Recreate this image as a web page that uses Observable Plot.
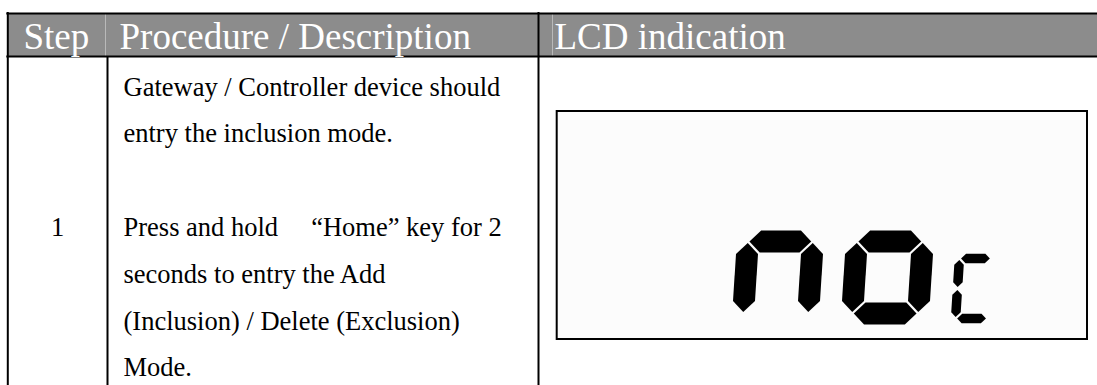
<!DOCTYPE html>
<html>
<head>
<meta charset="utf-8">
<script src="https://cdn.jsdelivr.net/npm/d3@7"></script>
<script src="https://cdn.jsdelivr.net/npm/@observablehq/plot@0.6"></script>
<style>
  html, body { margin: 0; padding: 0; background: #ffffff; }
  #chart svg { display: block; }
</style>
</head>
<body>
<div id="chart"></div>
<script>
// ---------- content ----------
const headers = ["Step", "Procedure / Description", "LCD indication"];
const stepNumbers = ["1"];
const stepLineIndex = [3];
const descriptionLines = [
  "Gateway / Controller device should",
  "entry the inclusion mode.",
  "",
  "Press and hold\u3000 \u201CHome\u201D key for 2",
  "seconds to entry the Add",
  "(Inclusion) / Delete (Exclusion)",
  "Mode."
];
const lcdChars = ["n", "O", "c"];
const lcdSegments = [
  ["top", "left", "right"],
  ["top", "left", "right", "bottom"],
  ["top", "upperLeft", "lowerLeft", "bottom"]
];

// ---------- layout ----------
const W = 1097, H = 385;
const SERIF = "'Liberation Serif', 'Times New Roman', 'Noto Sans CJK SC', serif";
const colEdges = [7.3, 107, 538, 1098];
const headerTop = 13, headerBottom = 56;
const headerTextX = [23, 119, 554];
const headerSeparators = [105, 552];
const headerFont = 37, headerBaseline = 48;
const bodyFont = 26.5, baseline0 = 95, lineStep = 46.8, descX = 123;
const box = {x1: 556.7, x2: 1087, y1: 111, y2: 339};
// digit geometry: left/right centre lines, top/bottom centre lines, thickness
const digitGeom = [
  {xl: 745, xr: 810, yt: 241, yb: 313, t: 22},
  {xl: 854, xr: 920, yt: 241, yb: 313, t: 22},
  {xl: 957, xr: 989, yt: 258, yb: 318, t: 9.5}
];
const slant = 0.065, gap = 1.6;

function hSeg(x1, x2, yc, t) {
  return [[x1 + gap, yc], [x1 + gap + t / 2, yc - t / 2], [x2 - gap - t / 2, yc - t / 2],
          [x2 - gap, yc], [x2 - gap - t / 2, yc + t / 2], [x1 + gap + t / 2, yc + t / 2]];
}
function vSeg(xc, y1, y2, t) {
  return [[xc, y1 + gap], [xc + t / 2, y1 + gap + t / 2], [xc + t / 2, y2 - gap - t / 2],
          [xc, y2 - gap], [xc - t / 2, y2 - gap - t / 2], [xc - t / 2, y1 + gap + t / 2]];
}
const segRows = [];
lcdChars.forEach((ch, i) => {
  const g = digitGeom[i];
  const ym = (g.yt + g.yb) / 2;
  lcdSegments[i].forEach(seg => {
    let pts;
    if (seg === "top") pts = hSeg(g.xl, g.xr, g.yt, g.t);
    else if (seg === "bottom") pts = hSeg(g.xl, g.xr, g.yb, g.t);
    else if (seg === "left") pts = vSeg(g.xl, g.yt, g.yb, g.t);
    else if (seg === "right") pts = vSeg(g.xr, g.yt, g.yb, g.t);
    else if (seg === "upperLeft") pts = vSeg(g.xl, g.yt, ym, g.t);
    else if (seg === "lowerLeft") pts = vSeg(g.xl, ym, g.yb, g.t);
    pts.forEach(([x, y]) => segRows.push({id: ch + i + seg, x: x + slant * (ym - y), y}));
  });
});

const headerRows = headers.map((h, i) => ({text: h, x: headerTextX[i], y: headerBaseline - 0.32 * headerFont}));
const descRows = descriptionLines.map((t, i) => ({text: t, x: descX, y: baseline0 + i * lineStep - 0.32 * bodyFont}));
const stepRows = stepNumbers.map((s, i) => ({text: s, x: (colEdges[0] + colEdges[1]) / 2, y: baseline0 + stepLineIndex[i] * lineStep - 0.32 * bodyFont}));

const vLines = [
  {x: colEdges[0], y1: headerTop - 1, y2: H},
  {x: colEdges[1], y1: headerBottom, y2: H},
  {x: colEdges[2], y1: headerTop - 1, y2: H},
  {x: colEdges[3], y1: headerTop - 1, y2: H}
];
const hLines = [
  {y: headerTop, x1: colEdges[0] - 1, x2: W},
  {y: headerBottom, x1: colEdges[0] - 1, x2: W}
];

const chart = Plot.plot({
  width: W,
  height: H,
  margin: 0,
  x: {domain: [0, W], range: [0, W], axis: null},
  y: {domain: [0, H], range: [0, H], axis: null},
  style: {background: "#ffffff"},
  marks: [
    Plot.rect([{x1: colEdges[0], x2: W, y1: headerTop, y2: headerBottom}],
      {x1: "x1", x2: "x2", y1: "y1", y2: "y2", fill: "#8c8c8c", inset: 0}),
    Plot.ruleX(headerSeparators.map(x => ({x})), {x: "x", y1: () => headerTop, y2: () => headerBottom, stroke: "#b9b9b9", strokeWidth: 1}),
    Plot.rect([box], {x1: "x1", x2: "x2", y1: "y1", y2: "y2", fill: "#fcfcfc", stroke: "#000", strokeWidth: 2, inset: 0}),
    Plot.ruleX(vLines, {x: "x", y1: "y1", y2: "y2", stroke: "#000", strokeWidth: 2}),
    Plot.ruleY(hLines, {y: "y", x1: "x1", x2: "x2", stroke: "#000", strokeWidth: 2}),
    Plot.text(headerRows, {x: "x", y: "y", text: "text", textAnchor: "start", lineAnchor: "middle",
      fontFamily: SERIF, fontSize: headerFont, fill: "#ffffff"}),
    Plot.text(descRows, {x: "x", y: "y", text: "text", textAnchor: "start", lineAnchor: "middle",
      fontFamily: SERIF, fontSize: bodyFont, fill: "#000"}),
    Plot.text(stepRows, {x: "x", y: "y", text: "text", textAnchor: "middle", lineAnchor: "middle",
      fontFamily: SERIF, fontSize: bodyFont, fill: "#000"}),
    Plot.line(segRows, {x: "x", y: "y", z: "id", fill: "#000", stroke: "none", curve: "linear-closed"})
  ]
});
document.getElementById("chart").appendChild(chart);
</script>
</body>
</html>
